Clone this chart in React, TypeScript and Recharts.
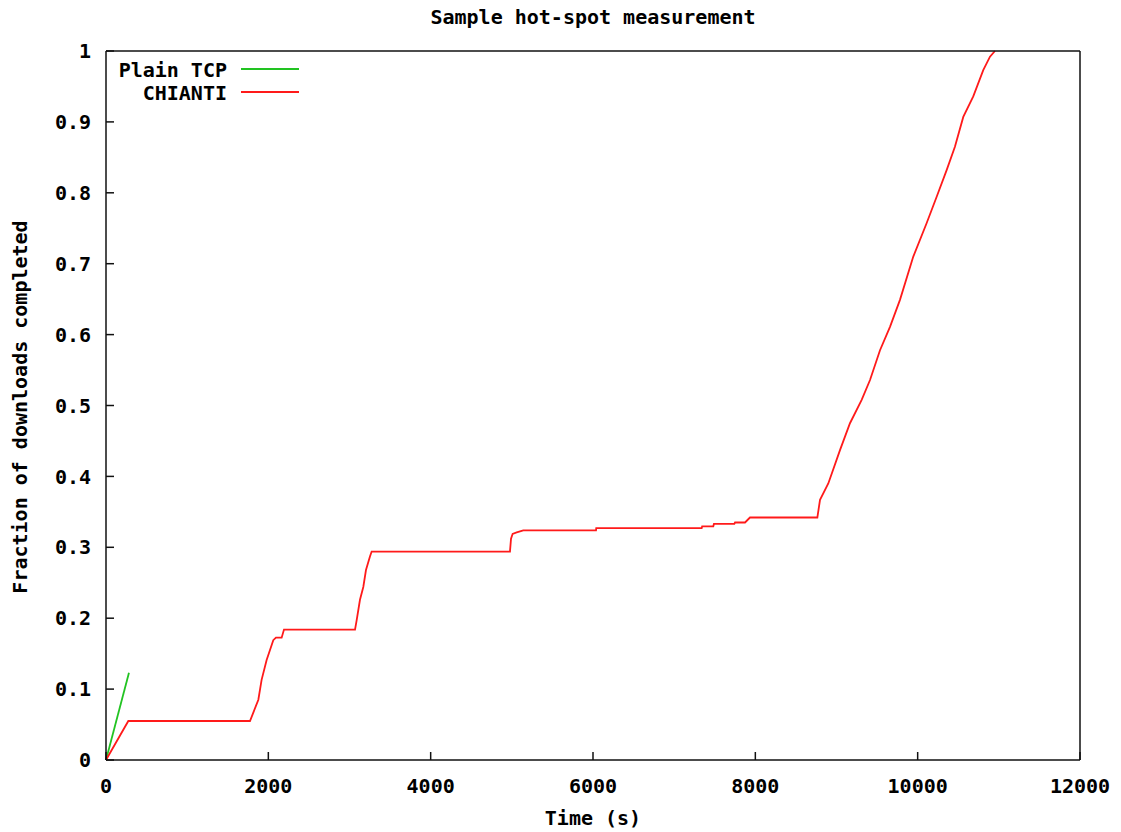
import { Line, LineChart, XAxis, YAxis } from "recharts";

const plainTcpTime = [0, 283];
const plainTcpFraction = [0, 0.123];

const chiantiTime = [
  0, 275, 1774, 1877, 1917, 1979, 2061, 2094, 2164, 2193, 3068, 3088, 3129, 3170,
  3203, 3252, 3273, 4977, 4990, 5010, 5060, 5141, 6037, 6040, 7339, 7345, 7482, 7490,
  7741, 7750, 7873, 7934, 8764, 8797, 8899, 9043, 9166, 9310, 9413, 9536, 9659, 9782,
  9946, 10110, 10233, 10357, 10459, 10562, 10685, 10808, 10891, 10952,
];
const chiantiFraction = [
  0, 0.055, 0.055, 0.085, 0.113, 0.141, 0.169, 0.1725, 0.1725, 0.184, 0.184, 0.197,
  0.226, 0.244, 0.268, 0.287, 0.294, 0.294, 0.312, 0.319, 0.321, 0.324, 0.324, 0.327,
  0.327, 0.3296, 0.3296, 0.333, 0.333, 0.335, 0.335, 0.342, 0.342, 0.367, 0.39, 0.437,
  0.475, 0.508, 0.536, 0.578, 0.611, 0.649, 0.71, 0.757, 0.794, 0.832, 0.865, 0.907,
  0.936, 0.973, 0.992, 1.0,
];

const xTicks = [0, 2000, 4000, 6000, 8000, 10000, 12000];
const yTicks = [0, 0.1, 0.2, 0.3, 0.4, 0.5, 0.6, 0.7, 0.8, 0.9, 1];

const plainTcp = plainTcpTime.map((time, i) => ({ time, fraction: plainTcpFraction[i] }));
const chianti = chiantiTime.map((time, i) => ({ time, fraction: chiantiFraction[i] }));

const FONT = "'DejaVu Sans Mono', 'Liberation Mono', monospace";
const tickStyle = { fill: "#000", fontFamily: FONT, fontSize: 20, fontWeight: "bold" };
const textStyle = { fontFamily: FONT, fontSize: 20, fontWeight: "bold" as const, fill: "#000" };
const GREEN = "#22c322";
const RED = "#ff1a1a";

export default function App() {
  return (
    <div style={{ position: "absolute", left: 0, top: 0, background: "#fff" }}>
      <LineChart width={1121} height={832} margin={{ top: 0, right: 0, bottom: 0, left: 0 }}>
        <XAxis
          dataKey="time"
          type="number"
          domain={[0, 12000]}
          ticks={xTicks}
          height={72}
          tickSize={-8}
          tickMargin={27}
          axisLine={{ stroke: "#111", strokeWidth: 1.5 }}
          tickLine={{ stroke: "#111", strokeWidth: 1.5 }}
          tick={tickStyle}
        />
        <XAxis
          xAxisId="top"
          orientation="top"
          type="number"
          domain={[0, 12000]}
          ticks={xTicks}
          height={51}
          tickSize={-8}
          tickFormatter={() => ""}
          axisLine={{ stroke: "#111", strokeWidth: 1.5 }}
          tickLine={{ stroke: "#111", strokeWidth: 1.5 }}
        />
        <YAxis
          type="number"
          domain={[0, 1]}
          ticks={yTicks}
          width={106}
          tickSize={-8}
          tickMargin={23}
          tickFormatter={(v: number) => String(v)}
          axisLine={{ stroke: "#111", strokeWidth: 1.5 }}
          tickLine={{ stroke: "#111", strokeWidth: 1.5 }}
          tick={tickStyle}
        />
        <YAxis
          yAxisId="right"
          orientation="right"
          type="number"
          domain={[0, 1]}
          ticks={yTicks}
          width={41}
          tickSize={-8}
          tickFormatter={() => ""}
          axisLine={{ stroke: "#111", strokeWidth: 1.5 }}
          tickLine={{ stroke: "#111", strokeWidth: 1.5 }}
        />
        <Line
          data={plainTcp}
          dataKey="fraction"
          type="linear"
          stroke={GREEN}
          strokeWidth={1.8}
          dot={false}
          isAnimationActive={false}
        />
        <Line
          data={chianti}
          dataKey="fraction"
          type="linear"
          stroke={RED}
          strokeWidth={1.8}
          dot={false}
          isAnimationActive={false}
        />
        <text x={593} y={24} textAnchor="middle" {...textStyle}>
          Sample hot-spot measurement
        </text>
        <text x={593} y={825} textAnchor="middle" {...textStyle}>
          Time (s)
        </text>
        <text
          x={20}
          y={407}
          textAnchor="middle"
          dominantBaseline="central"
          transform="rotate(-90, 20, 407)"
          {...textStyle}
        >
          Fraction of downloads completed
        </text>
        <text x={227} y={77} textAnchor="end" {...textStyle}>
          Plain TCP
        </text>
        <line x1={241} x2={299} y1={69} y2={69} stroke={GREEN} strokeWidth={2} />
        <text x={227} y={100} textAnchor="end" {...textStyle}>
          CHIANTI
        </text>
        <line x1={241} x2={299} y1={92} y2={92} stroke={RED} strokeWidth={2} />
      </LineChart>
    </div>
  );
}
